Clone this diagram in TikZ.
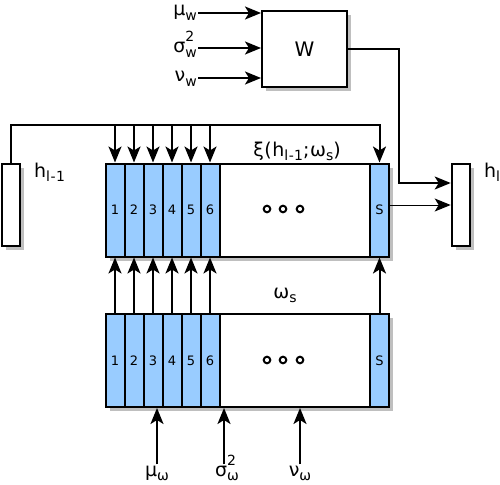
\documentclass[tikz,border=0pt]{standalone}
\usepackage{fontspec}
\setmainfont{DejaVu Sans}[LetterSpace=3]
\usetikzlibrary{arrows.meta,shadows}
\definecolor{cellblue}{RGB}{153,204,255}
\tikzset{>={Stealth[length=16pt,width=13pt,inset=4pt]}}
\newcommand{\lsub}[1]{\raisebox{-4.5pt}{\fontsize{14}{14}\selectfont #1}}
\newcommand{\lsup}[1]{\raisebox{11pt}{\fontsize{14}{14}\selectfont #1}}

\begin{document}
\begin{tikzpicture}[x=1pt,y=-1pt]
        % sh = drop shadow, box = white block, cell = blue slot, conn = arrow
        \tikzset{sh/.style={drop shadow={shadow xshift=4pt, shadow yshift=-4pt, fill=black!25, opacity=1}}}
        \tikzset{box/.style={draw=black, fill=white, line width=2pt, inner sep=0pt, sh}}
        \tikzset{cell/.style={draw=black, fill=cellblue, line width=2pt, inner sep=0pt, minimum width=19pt, font=\fontsize{13}{14}\selectfont}}
        \tikzset{lbl/.style={font=\fontsize{19}{21}\selectfont, inner sep=1pt}}
        \tikzset{conn/.style={->, line width=2pt}}
        \useasboundingbox (0,0) rectangle (500,484);

        % weight block and its inputs
        \node[box, minimum width=85pt, minimum height=76pt, font=\fontsize{20}{22}\selectfont] (W) at (304.5,49) {W};
        \node[lbl, anchor=base east] (muw) at (198,16) {μ\lsub{w}};
        \node[lbl, anchor=base east] (sgw) at (198,53) {σ\rlap{\lsup{2}}\lsub{w}};
        \node[lbl, anchor=base east] (nuw) at (198,82) {ν\lsub{w}};
        \draw[conn] ([yshift=3pt]muw.base east) -- ([yshift=3pt]muw.base east -| W.west);
        \draw[conn] ([yshift=5pt]sgw.base east) -- ([yshift=5pt]sgw.base east -| W.west);
        \draw[conn] ([yshift=4pt]nuw.base east) -- ([yshift=4pt]nuw.base east -| W.west);

        % layer vectors
        \node[box, minimum width=18pt, minimum height=82pt] (hprev) at (11,205) {};
        \node[lbl, anchor=base west] (hprevl) at (33,177) {h\lsub{l-1}};
        \node[box, minimum width=18pt, minimum height=82pt] (hl) at (460.7,205) {};
        \node[lbl, anchor=base west] (hll) at (483,177) {h\lsub{l}};

        % upper and lower blocks
        \node[box, minimum width=283pt, minimum height=93pt] (up) at (247,210) {};
        \node[box, minimum width=283pt, minimum height=93pt] (low) at (247,360.5) {};
        \foreach \i in {1,...,6} {
                \node[cell, minimum height=93pt] (u\i) at ({96+19*\i},210) {\i};
                \node[cell, minimum height=93pt] (l\i) at ({96+19*\i},360.5) {\i};
        }
        \node[cell, minimum height=93pt] (uS) at (379.5,210) {S};
        \node[cell, minimum height=93pt] (lS) at (379.5,360.5) {S};
        \foreach \x in {267,283,300} {
                \draw[line width=2pt, fill=white] (\x,209) circle (3.3pt);
                \draw[line width=2pt, fill=white] (\x,360) circle (3.3pt);
        }
        \node[lbl, anchor=base] (xi) at (297,156) {ξ(h\lsub{l-1};ω\lsub{s})};
        \node[lbl, anchor=base] (oms) at (285,298) {ω\lsub{s}};

        % h_{l-1} into every slot
        \coordinate (top) at (0,125);
        \draw[conn] (hprev.north) |- (top -| uS.north) -- (uS.north);
        \foreach \i in {1,...,6}
                \draw[conn] (top -| u\i.north) -- (u\i.north);

        % lower slots up to upper slots
        \foreach \i in {1,...,6}
                \draw[conn] (l\i.north) -- (u\i.south);
        \draw[conn] (lS.north) -- (uS.south);

        % outputs into h_l
        \coordinate (bend) at (399,183);
        \draw[conn] (W.east) -| (bend) -- (bend -| hl.west);
        \draw[->, line width=1pt] (uS.east |- hl.west) -- (hl.west);

        % priors of omega
        \node[lbl, anchor=base] (muo) at (157,476) {μ\lsub{ω}};
        \node[lbl, anchor=base] (sgo) at (227,476) {σ\rlap{\lsup{2}}\lsub{ω}};
        \node[lbl, anchor=base] (nuo) at (300,476) {ν\lsub{ω}};
        \draw[conn] (muo.north) -- (muo.north |- low.south);
        \draw[conn] ([xshift=-3pt]sgo.north |- muo.north) -- ([xshift=-3pt]sgo.north |- low.south);
        \draw[conn] (nuo.north |- muo.north) -- (nuo.north |- low.south);
\end{tikzpicture}
\end{document}
